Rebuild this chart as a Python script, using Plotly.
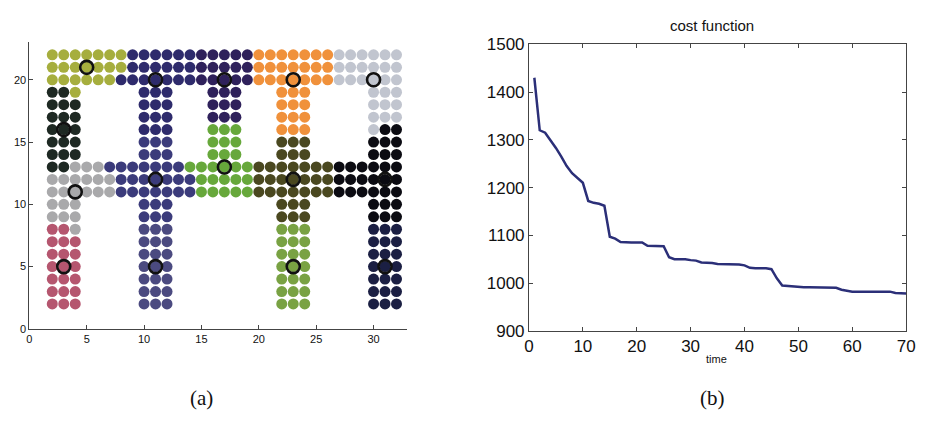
import plotly.graph_objects as go

# ---------------- data: panel (a) ----------------
# cluster map, rows from y=22 (top) down to y=2, columns x=2..32
grid_rows = [
    "AAAAAAABBBBBBCCCCCDDDDDDDEEEEEE",  # 22
    "AAAAAAABBBBBBCCCCCDDDDDDDEEEEEE",  # 21
    "AAAAAABBBBBBBCCCCCDDDDDDDEEEEEE",  # 20
    "FFA.....BBB...CCC...DDD.....EEE",  # 19
    "FFF.....BBB...CCC...DDD.....EEE",  # 18
    "FFF.....BBB...CCC...DDD.....EEE",  # 17
    "FFF.....BBB...III...DDD.....EKK",  # 16
    "FFF.....HHH...III...JJJ.....KKK",  # 15
    "FFF.....HHH...III...JJJ.....KKK",  # 14
    "FFGGGHHHHHHHIIIIIIJJJJJJJKKKKKK",  # 13
    "GGGGGGHHHHHHHIIIIIJJJJJJJKKKKKK",  # 12
    "GGGGGGHHHHHHHIIIIIJJJJJJJKKKKKK",  # 11
    "GGG.....HHH.........JJJ.....KKK",  # 10
    "GGG.....HHH.........JJJ.....KKK",  # 9
    "LLG.....MMM.........NNN.....OOO",  # 8
    "LLL.....MMM.........NNN.....OOO",  # 7
    "LLL.....MMM.........NNN.....OOO",  # 6
    "LLL.....MMM.........NNN.....OOO",  # 5
    "LLL.....MMM.........NNN.....OOO",  # 4
    "LLL.....MMM.........NNN.....OOO",  # 3
    "LLL.....MMM.........NNN.....OOO",  # 2
]
grid_top_y = 22
grid_left_x = 2

cluster_keys = list("ABCDEFGHIJKLMNO")
cluster_colors = ["#a6ae3e", "#2e2b6c", "#2f215b", "#f0913b", "#c1c5cf",
                  "#1e2923", "#a9a9ab", "#3b3b7b", "#67a83b", "#4a4820",
                  "#0b0b12", "#b5566f", "#4b4a80", "#79a243", "#1b1f43"]
center_x = [5, 11, 17, 23, 30, 3, 4, 11, 17, 23, 31, 3, 11, 23, 31]
center_y = [21, 20, 20, 20, 20, 16, 11, 12, 13, 12, 12, 5, 5, 5, 5]

a_xticks = [0, 5, 10, 15, 20, 25, 30]
a_yticks = [0, 5, 10, 15, 20]

# ---------------- data: panel (b) ----------------
time = list(range(1, 71))
cost = [1430, 1320, 1315, 1300, 1283, 1265, 1245, 1230, 1220, 1210,
        1172, 1168, 1166, 1162, 1097, 1093, 1086, 1085, 1085, 1085,
        1085, 1078, 1078, 1078, 1077, 1054, 1050, 1050, 1050, 1048,
        1047, 1043, 1043, 1042, 1040, 1040, 1039, 1039, 1039, 1037,
        1032, 1031, 1031, 1031, 1029, 1010, 995, 994, 992, 991,
        991, 991, 991, 991, 991, 991, 990, 986, 984, 982,
        982, 982, 982, 982, 982, 982, 982, 979, 978, 978]
b_xticks = [0, 10, 20, 30, 40, 50, 60, 70]
b_yticks = [900, 1000, 1100, 1200, 1300, 1400, 1500]

# ---------------- build figure ----------------
W, H = 926, 421
fig = go.Figure()

pts = {k: ([], []) for k in cluster_keys}
for ri, row in enumerate(grid_rows):
    y = grid_top_y - ri
    for ci, ch in enumerate(row):
        if ch != ".":
            pts[ch][0].append(grid_left_x + ci)
            pts[ch][1].append(y)

for k, col in zip(cluster_keys, cluster_colors):
    fig.add_trace(go.Scatter(
        x=pts[k][0], y=pts[k][1], mode="markers",
        marker=dict(size=11, color=col, line=dict(width=0)),
        xaxis="x", yaxis="y", showlegend=False, hoverinfo="skip"))

fig.add_trace(go.Scatter(
    x=center_x, y=center_y, mode="markers",
    marker=dict(symbol="circle-open", size=13, color="#111111",
                line=dict(width=2.6, color="#111111")),
    xaxis="x", yaxis="y", showlegend=False, hoverinfo="skip"))

fig.add_trace(go.Scatter(
    x=time, y=cost, mode="lines",
    line=dict(color="#2b2f78", width=2.5),
    xaxis="x2", yaxis="y2", showlegend=False, hoverinfo="skip"))

def px_x(p):
    return p / W

def px_y(p):
    return (H - p) / H

axis_common = dict(showgrid=False, zeroline=False, showline=True,
                   linecolor="#444444", linewidth=1, ticks="inside",
                   ticklen=4, tickcolor="#444444", tickwidth=1)

fig.update_layout(
    width=W, height=H,
    margin=dict(l=0, r=0, t=0, b=0),
    paper_bgcolor="white", plot_bgcolor="white",
    font=dict(family="Liberation Sans, Arial, sans-serif", color="#111111"),
    xaxis=dict(domain=[px_x(24.7), px_x(408)], range=[0, 32.9],
               tickvals=a_xticks, tickfont=dict(size=11), anchor="y",
               **axis_common),
    yaxis=dict(domain=[px_y(335), px_y(35)], range=[0, 23],
               tickvals=a_yticks, tickfont=dict(size=11), anchor="x",
               **axis_common),
    xaxis2=dict(domain=[px_x(532), px_x(915)], range=[0, 70],
                tickvals=b_xticks, tickfont=dict(size=17), anchor="y2",
                mirror="ticks", **axis_common),
    yaxis2=dict(domain=[px_y(337), px_y(37)], range=[900, 1500],
                tickvals=b_yticks, tickfont=dict(size=17), anchor="x2",
                mirror="ticks", **axis_common),
    annotations=[
        dict(text="cost function", x=px_x(718), y=px_y(17), xref="paper",
             yref="paper", showarrow=False, font=dict(size=15),
             xanchor="center", yanchor="middle"),
        dict(text="time", x=px_x(722), y=px_y(367), xref="paper",
             yref="paper", showarrow=False, font=dict(size=11),
             xanchor="center", yanchor="middle"),
        dict(text="(a)", x=px_x(200), y=px_y(407), xref="paper",
             yref="paper", showarrow=False,
             font=dict(size=21, family="Liberation Serif, Times New Roman, serif"),
             xanchor="center", yanchor="middle"),
        dict(text="(b)", x=px_x(718), y=px_y(407), xref="paper",
             yref="paper", showarrow=False,
             font=dict(size=21, family="Liberation Serif, Times New Roman, serif"),
             xanchor="center", yanchor="middle"),
    ],
)

fig.write_html("out.html")
